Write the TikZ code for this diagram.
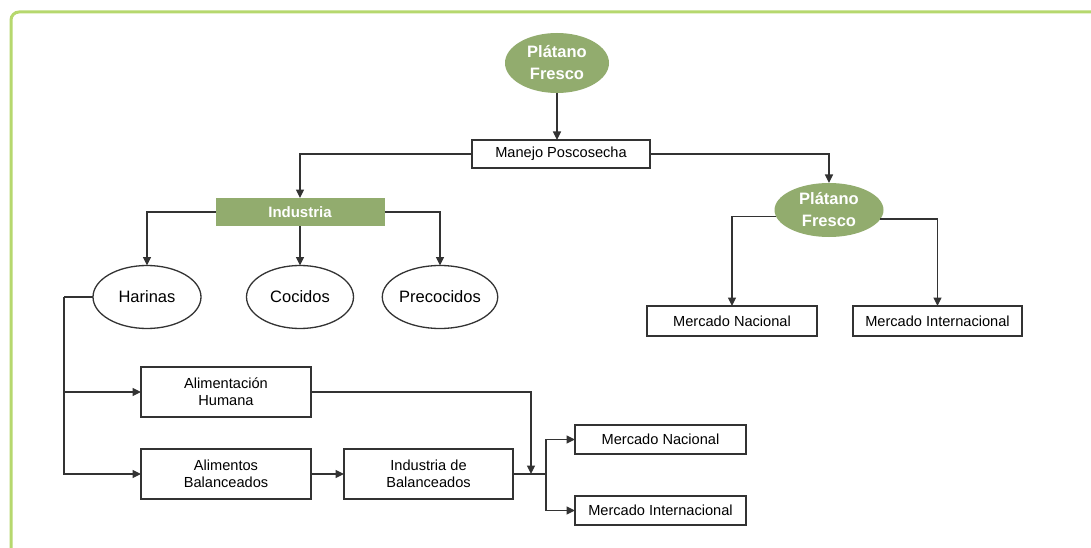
\documentclass[tikz,border=0pt]{standalone}
\usepackage{fontspec}
\setmainfont{Liberation Sans}
\usetikzlibrary{arrows.meta,shapes.geometric}
\definecolor{frameGreen}{HTML}{B6D86E}
\definecolor{leafGreen}{HTML}{92AC6E}
\definecolor{inkGray}{HTML}{333333}
\tikzset{
  every node/.style={inner sep=0pt, outer sep=0pt, align=center},
  box/.style={draw=inkGray, line width=1.3pt, fill=white,
    font=\fontsize{14.6}{17}\selectfont},
  oval/.style={ellipse, draw=inkGray, line width=1.3pt, fill=white,
    font=\fontsize{16.5}{19}\selectfont},
  greenoval/.style={ellipse, fill=leafGreen, text=white,
    font=\fontsize{16.5}{22}\selectfont\bfseries},
  greenbox/.style={fill=leafGreen, text=white,
    font=\fontsize{15}{18}\selectfont\bfseries},
  link/.style={draw=inkGray, line width=1.2pt},
  arr/.style={link, -{Triangle[length=8.5pt,width=8pt]}}
}
\begin{document}
\begin{tikzpicture}[x=1pt,y=-1pt]
\useasboundingbox (0,0) rectangle (1091,548);
\fill[white] (0,0) rectangle (1091,548);
% frame, running off the right and bottom edges
\begin{scope}
  \clip (0,0) rectangle (1091,548);
  \draw[frameGreen, line width=3pt, rounded corners=8pt] (11,12) rectangle (1110,570);
\end{scope}

% top of the chain
\node[greenoval, minimum width=104, minimum height=60] (p1) at (557,63) {Plátano\\Fresco};
\node[box, minimum width=178, minimum height=28] (man) at (561,154) {Manejo Poscosecha};

% industrial branch
\node[greenbox, minimum width=169, minimum height=28] (ind) at (300,212) {Industria};
\node[oval, minimum width=108, minimum height=63] (har) at (147,297) {Harinas};
\node[oval, minimum width=107, minimum height=63] (coc) at (300,297) {Cocidos};
\node[oval, minimum width=106, minimum height=63] (pre) at (440,297) {Precocidos};

% fresh branch
\node[greenoval, minimum width=109, minimum height=54] (p2) at (829,210) {Plátano\\Fresco};
\node[box, minimum width=170, minimum height=30] (mn1) at (732,321) {Mercado Nacional};
\node[box, minimum width=169, minimum height=30] (mi1) at (937.5,321) {Mercado Internacional};

% uses of flour
\node[box, minimum width=170, minimum height=50] (ah) at (226,392) {Alimentación\\Humana};
\node[box, minimum width=170, minimum height=50] (ab) at (226,474) {Alimentos\\Balanceados};
\node[box, minimum width=169, minimum height=50] (ib) at (428.5,474) {Industria de\\Balanceados};
\node[box, minimum width=171, minimum height=29] (mn2) at (660.5,439.5) {Mercado Nacional};
\node[box, minimum width=171, minimum height=29] (mi2) at (660.5,510.5) {Mercado Internacional};

% routing points
\coordinate (trunk) at (64,297);
\coordinate (join) at (531,474);
\coordinate (split) at (546,474);

% connectors
\draw[arr] (p1.south) -- (p1.south |- man.north);
\draw[arr] (man.west) -| (ind.north);
\draw[arr] (man.east) -| (p2.north);
\draw[arr] (ind.west) -| (har.north);
\draw[arr] (ind.south) -- (coc.north);
\draw[arr] (ind.east) -| (pre.north);
\draw[arr] (p2.187) -| (mn1.north);
\draw[arr] (p2.350) -| (mi1.north);

\draw[link] (har.west) -- (trunk);
\draw[arr] (trunk) |- (ah.west);
\draw[arr] (trunk) |- (ab.west);
\draw[arr] (ab.east) -- (ib.west);
\draw[arr] (ah.east) -| (join);
\draw[link] (ib.east) -- (split);
\draw[arr] (split) |- (mn2.west);
\draw[arr] (split) |- (mi2.west);
\end{tikzpicture}
\end{document}
